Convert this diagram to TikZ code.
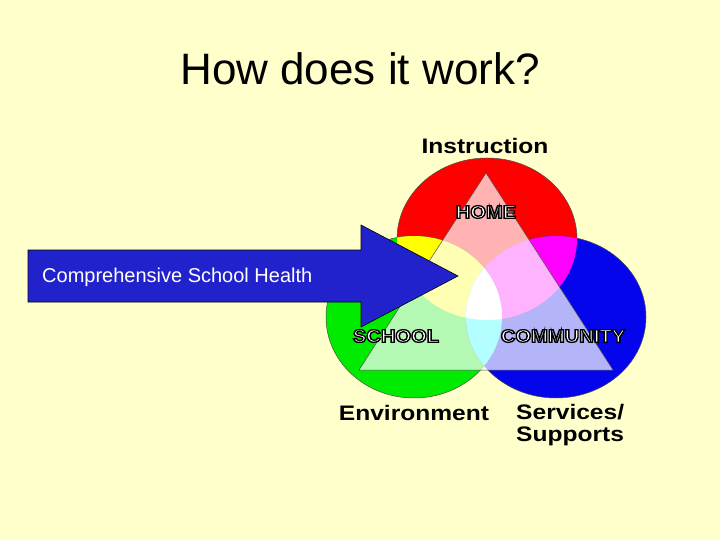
\documentclass[tikz,border=0pt]{standalone}
\usepackage{fontspec}
\setmainfont{Liberation Sans}
\usepackage{tikz}
\definecolor{slidebg}{RGB}{255,255,204}
\definecolor{arrowblue}{RGB}{34,34,204}
\definecolor{ringred}{RGB}{255,0,0}
\definecolor{ringgreen}{RGB}{0,235,0}
\definecolor{ringblue}{RGB}{5,5,235}
\definecolor{mixyellow}{RGB}{255,255,0}
\definecolor{mixmagenta}{RGB}{255,0,255}
\definecolor{mixcyan}{RGB}{0,255,255}
\definecolor{mixwhite}{RGB}{255,255,255}
% the three rings (pixel coordinates)
\newcommand*{\redring}{(487,239) ellipse [x radius=90pt, y radius=81pt]}
\newcommand*{\greenring}{(414,317) ellipse [x radius=88pt, y radius=81pt]}
\newcommand*{\bluering}{(556,317) ellipse [x radius=90pt, y radius=81pt]}
% white letters with a black rim
\newcommand*{\rimmed}[1]{%
  \special{pdf:code 2 Tr 1.3 w 0 0 0 RG}#1\special{pdf:code 0 Tr}}

\begin{document}
\begin{tikzpicture}[x=1pt, y=-1pt,
    ring/.style={draw=black!70, line width=0.5pt},
    place/.style={inner sep=0pt, text=white, xscale=1.12, transform shape,
                  font=\fontsize{18}{18}\selectfont\bfseries},
    caption/.style={inner sep=0pt, xscale=1.17, transform shape,
                    font=\fontsize{21}{22}\selectfont\bfseries},
    title/.style={inner sep=0pt, font=\fontsize{44}{44}\selectfont}]

\fill [slidebg] (0,0) rectangle (720,540);
\useasboundingbox (0,0) rectangle (720,540);

\node [ title, anchor=base ] (heading) at (360,85) {How does it work?};

% rings and their overlaps
\filldraw [ring, fill=ringred] \redring;
\filldraw [ring, fill=ringgreen] \greenring;
\filldraw [ring, fill=ringblue] \bluering;
\begin{scope}
  \clip \redring;
  \fill [mixyellow] \greenring;
  \fill [mixmagenta] \bluering;
\end{scope}
\begin{scope}
  \clip \greenring;
  \fill [mixcyan] \bluering;
\end{scope}
\begin{scope}
  \clip \redring;
  \clip \greenring;
  \fill [mixwhite] \bluering;
\end{scope}

\coordinate (apex) at (486,173);
\coordinate (leftfoot) at (359,370);
\coordinate (rightfoot) at (613,370);
\draw [black!70, line width=0.5pt, fill=white, fill opacity=0.7]
  (apex) -- (leftfoot) -- (rightfoot) -- cycle;

\node [ place ] (home) at (486,212) {\rimmed{HOME}};
\node [ place ] (school) at (396,336) {\rimmed{SCHOOL}};
\node [ place ] (community) at (563,336) {\rimmed{COMMUNITY}};

\node [ caption ] (instruction) at (485,146) {Instruction};
\node [ caption ] (environment) at (414,413) {Environment};
\node [ caption, anchor=west, align=left ] (services) at (516,425) {Services/\\Supports};

% the arrow
\draw [ fill=arrowblue, draw=black, line width=0.6pt ]
  (28,250) -- (361,250) -- (361,225) -- (458,276) -- (361,327)
  -- (361,302) -- (28,302) -- cycle;
\node [ anchor=base west, inner sep=0pt, text=white,
        font=\fontsize{20}{20}\selectfont ] (csh) at (42,282)
  {Comprehensive School Health};
\end{tikzpicture}
\end{document}
